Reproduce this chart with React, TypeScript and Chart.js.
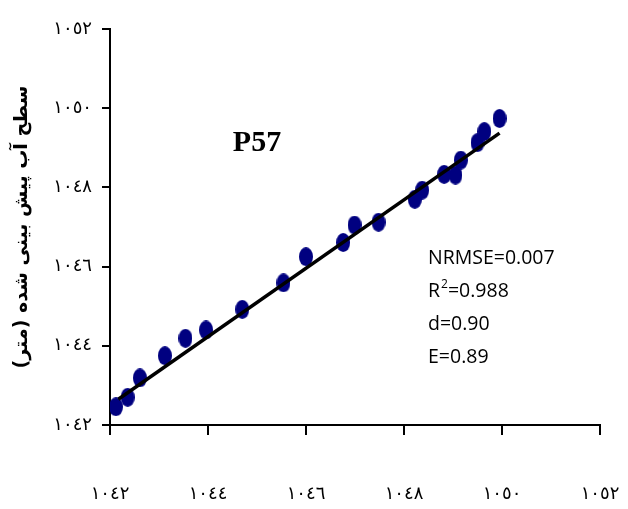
import { useEffect, useRef } from "react";
import { Chart, registerables } from "chart.js";

Chart.register(...registerables);

// Observed water level (x) vs predicted water level (y), station P57
const observed = [
  1042.12, 1042.36, 1042.61, 1043.12, 1043.54, 1043.96, 1044.7, 1045.54, 1046.0, 1046.76,
  1046.99, 1047.48, 1048.22, 1048.37, 1048.82, 1049.05, 1049.16, 1049.5, 1049.64, 1049.95,
];
const predicted = [
  1042.46, 1042.7, 1043.19, 1043.75, 1044.19, 1044.4, 1044.92, 1045.59, 1046.25, 1046.61,
  1047.05, 1047.12, 1047.7, 1047.93, 1048.33, 1048.31, 1048.69, 1049.13, 1049.41, 1049.74,
];
// Fitted regression line end points
const fitX = [1042.17, 1049.95];
const fitY = [1042.65, 1049.37];

const tickValues = [1042, 1044, 1046, 1048, 1050, 1052];
const yTitle = "سطح آب پیش بینی شده (متر)";
const stationLabel = "P57";
const statNames = ["NRMSE", "R", "d", "E"];
const statValues = ["0.007", "0.988", "0.90", "0.89"];

const arabicDigits = "٠١٢٣٤٥٦٧٨٩";
const toArabic = (n: number) => String(n).replace(/\d/g, (d) => arabicDigits[Number(d)]);

function makeEllipse(): HTMLCanvasElement {
  const c = document.createElement("canvas");
  c.width = 14;
  c.height = 19;
  const g = c.getContext("2d")!;
  g.fillStyle = "#000080";
  g.beginPath();
  g.ellipse(7, 9.5, 7, 9.5, 0, 0, Math.PI * 2);
  g.fill();
  return c;
}

const annotationPlugin = {
  id: "annotations",
  afterDatasetsDraw(chart: any) {
    const { ctx, scales } = chart;
    const xs = scales.x;
    const ys = scales.y;
    ctx.save();
    ctx.fillStyle = "#000";
    ctx.font = 'bold 30px "Liberation Serif"';
    ctx.textAlign = "center";
    ctx.textBaseline = "middle";
    ctx.fillText(stationLabel, xs.getPixelForValue(1045.0), ys.getPixelForValue(1049.12));

    const left = xs.getPixelForValue(1048.49);
    const base0 = ys.getPixelForValue(1046.07);
    ctx.textAlign = "left";
    ctx.textBaseline = "alphabetic";
    statNames.forEach((name, i) => {
      const yb = base0 + i * 33;
      ctx.font = '19.5px "Open Sans"';
      let x = left;
      ctx.fillText(name, x, yb);
      x += ctx.measureText(name).width;
      if (name === "R") {
        ctx.font = '12px "Open Sans"';
        ctx.fillText("2", x + 1, yb - 9);
        x += ctx.measureText("2").width + 1;
        ctx.font = '19.5px "Open Sans"';
      }
      ctx.fillText("=" + statValues[i], x, yb);
    });
    ctx.restore();
  },
};

export default function App() {
  const ref = useRef<HTMLCanvasElement>(null);
  useEffect(() => {
    if (!ref.current) return;
    const marker = makeEllipse();
    const chart = new Chart(ref.current, {
      type: "scatter",
      data: {
        datasets: [
          {
            type: "line",
            label: "fit",
            data: fitX.map((x, i) => ({ x, y: fitY[i] })),
            borderColor: "#000",
            borderWidth: 3.5,
            pointRadius: 0,
            fill: false,
            order: 0,
          },
          {
            label: "P57",
            data: observed.map((x, i) => ({ x, y: predicted[i] })),
            pointStyle: marker as any,
            backgroundColor: "#000080",
            borderColor: "#000080",
            pointRadius: 8,
            order: 1,
          },
        ],
      },
      options: {
        animation: false,
        responsive: true,
        maintainAspectRatio: false,
        layout: { padding: { top: 29, right: 28, left: 0, bottom: 0 } },
        plugins: { legend: { display: false }, tooltip: { enabled: false } },
        scales: {
          x: {
            type: "linear",
            min: 1042,
            max: 1052,
            afterFit: (s: any) => {
              s.height = 84;
              s.paddingLeft = 0;
              s.paddingRight = 0;
            },
            afterBuildTicks: (s: any) => {
              s.ticks = tickValues.map((v) => ({ value: v }));
            },
            ticks: {
              callback: (v: any) => toArabic(v),
              color: "#000",
              font: { family: "DejaVu Sans", size: 18 },
              padding: 49,
              maxRotation: 0,
            },
            grid: { drawOnChartArea: false, drawTicks: true, tickLength: 10, color: "#000", lineWidth: 2 },
            border: { display: true, color: "#000", width: 2 },
          },
          y: {
            type: "linear",
            min: 1042,
            max: 1052,
            afterFit: (s: any) => {
              s.width = 110;
              s.paddingTop = 0;
              s.paddingBottom = 0;
            },
            afterBuildTicks: (s: any) => {
              s.ticks = tickValues.map((v) => ({ value: v }));
            },
            ticks: {
              callback: (v: any) => toArabic(v),
              color: "#000",
              font: { family: "DejaVu Sans", size: 18 },
              padding: 10,
            },
            grid: { drawOnChartArea: false, drawTicks: true, tickLength: 8, color: "#000", lineWidth: 2 },
            border: { display: true, color: "#000", width: 2 },
            title: {
              display: true,
              text: yTitle + "\u200F",
              color: "#000",
              font: { family: "DejaVu Sans", size: 19, weight: "bold" },
              padding: { top: 11, bottom: 0 },
            },
          },
        },
      },
      plugins: [annotationPlugin],
    });
    return () => chart.destroy();
  }, []);
  return (
    <div style={{ position: "fixed", left: 0, top: 0, width: 628, height: 509, background: "#fff" }}>
      <canvas ref={ref} />
    </div>
  );
}
